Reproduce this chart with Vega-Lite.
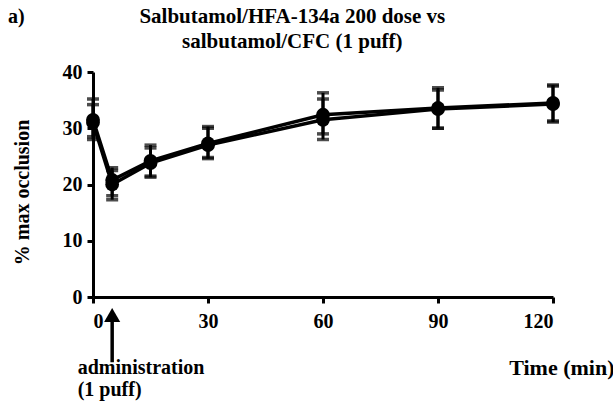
{
  "$schema": "https://vega.github.io/schema/vega-lite/v6.json",
  "width": 460,
  "height": 225,
  "autosize": {"type": "none"},
  "padding": {"left": 93, "top": 72, "right": 60, "bottom": 106},
  "background": "white",
  "config": {
    "view": {"stroke": null},
    "axis": {
      "domainColor": "black",
      "domainWidth": 3,
      "tickColor": "black",
      "tickWidth": 3,
      "tickSize": 6,
      "grid": false,
      "labelFont": "Liberation Serif",
      "labelFontSize": 20,
      "labelFontWeight": "bold",
      "labelColor": "black",
      "titleFont": "Liberation Serif",
      "titleFontSize": 20,
      "titleFontWeight": "bold",
      "titleColor": "black"
    }
  },
  "datasets": {
    "series": [
      {"series": "HFA", "time": 0, "mean": 31.5, "lo": 28.0, "hi": 35.2},
      {"series": "HFA", "time": 5, "mean": 20.8, "lo": 18.0, "hi": 23.0},
      {"series": "HFA", "time": 15, "mean": 24.2, "lo": 21.5, "hi": 27.0},
      {"series": "HFA", "time": 30, "mean": 27.3, "lo": 24.6, "hi": 30.3},
      {"series": "HFA", "time": 60, "mean": 32.4, "lo": 29.0, "hi": 36.3},
      {"series": "HFA", "time": 90, "mean": 33.6, "lo": 30.0, "hi": 37.2},
      {"series": "HFA", "time": 120, "mean": 34.5, "lo": 31.1, "hi": 37.7},
      {"series": "CFC", "time": 0, "mean": 31.0, "lo": 28.5, "hi": 34.2},
      {"series": "CFC", "time": 5, "mean": 20.0, "lo": 17.3, "hi": 22.5},
      {"series": "CFC", "time": 15, "mean": 23.8, "lo": 21.3, "hi": 26.5},
      {"series": "CFC", "time": 30, "mean": 27.0, "lo": 24.8, "hi": 30.0},
      {"series": "CFC", "time": 60, "mean": 31.5, "lo": 28.0, "hi": 35.2},
      {"series": "CFC", "time": 90, "mean": 33.4, "lo": 30.0, "hi": 36.8},
      {"series": "CFC", "time": 120, "mean": 34.3, "lo": 31.3, "hi": 37.5}
    ],
    "notes": [
      {"x": -4, "y": -12.6, "label": "administration"},
      {"x": -4, "y": -16.6, "label": "(1 puff)"},
      {"x": -22.2, "y": 49.8, "label": "a)"}
    ],
    "titles": [
      {"x": 52, "y": 49.8, "label": "Salbutamol/HFA-134a 200 dose vs"},
      {"x": 52, "y": 45.3, "label": "salbutamol/CFC (1 puff)"}
    ],
    "arrow": [
      {"x": 5, "y": -3.2, "y2": -11.6}
    ]
  },
  "layer": [
    {
      "data": {"name": "series"},
      "mark": {"type": "rule", "color": "black", "strokeWidth": 3},
      "encoding": {
        "x": {"field": "time", "type": "quantitative", "scale": {"domain": [0, 120]},
          "axis": {"values": [0, 30, 60, 90, 120], "labelPadding": 8, "title": "Time (min)",
            "titleAnchor": "end", "titleAlign": "right", "titleX": 521, "titleY": 70, "titleBaseline": "middle", "titleFontSize": 22}},
        "y": {"field": "lo", "type": "quantitative", "scale": {"domain": [0, 40]},
          "axis": {"values": [0, 10, 20, 30, 40], "labelPadding": 5, "title": "% max occlusion",
            "titleX": -71, "titleY": 120, "titleAngle": -90, "titleBaseline": "middle", "titleAlign": "center"}},
        "y2": {"field": "hi"},
        "detail": {"field": "series"}
      }
    },
    {
      "data": {"name": "series"},
      "mark": {"type": "tick", "orient": "horizontal", "color": "black", "size": 12, "thickness": 3.5},
      "encoding": {
        "x": {"field": "time", "type": "quantitative"},
        "y": {"field": "hi", "type": "quantitative"}
      }
    },
    {
      "data": {"name": "series"},
      "mark": {"type": "tick", "orient": "horizontal", "color": "black", "size": 12, "thickness": 3.5},
      "encoding": {
        "x": {"field": "time", "type": "quantitative"},
        "y": {"field": "lo", "type": "quantitative"}
      }
    },
    {
      "data": {"name": "series"},
      "mark": {"type": "line", "color": "black", "strokeWidth": 3.5},
      "encoding": {
        "x": {"field": "time", "type": "quantitative"},
        "y": {"field": "mean", "type": "quantitative"},
        "detail": {"field": "series"}
      }
    },
    {
      "data": {"name": "series"},
      "mark": {"type": "point", "shape": "circle", "filled": true, "color": "black", "opacity": 1, "size": 190},
      "encoding": {
        "x": {"field": "time", "type": "quantitative"},
        "y": {"field": "mean", "type": "quantitative"}
      }
    },
    {
      "data": {"name": "arrow"},
      "mark": {"type": "rule", "color": "black", "strokeWidth": 3.5},
      "encoding": {
        "x": {"field": "x", "type": "quantitative"},
        "y": {"field": "y", "type": "quantitative"},
        "y2": {"field": "y2"}
      }
    },
    {
      "data": {"name": "arrow"},
      "mark": {"type": "point", "shape": "triangle-up", "filled": true, "color": "black", "opacity": 1, "size": 260},
      "encoding": {
        "x": {"field": "x", "type": "quantitative"},
        "y": {"field": "y", "type": "quantitative"}
      }
    },
    {
      "data": {"name": "notes"},
      "mark": {"type": "text", "align": "left", "baseline": "middle", "font": "Liberation Serif", "fontWeight": "bold", "fontSize": 20, "color": "black"},
      "encoding": {
        "x": {"field": "x", "type": "quantitative"},
        "y": {"field": "y", "type": "quantitative"},
        "text": {"field": "label"}
      }
    },
    {
      "data": {"name": "titles"},
      "mark": {"type": "text", "align": "center", "baseline": "middle", "font": "Liberation Serif", "fontWeight": "bold", "fontSize": 21, "color": "black"},
      "encoding": {
        "x": {"field": "x", "type": "quantitative"},
        "y": {"field": "y", "type": "quantitative"},
        "text": {"field": "label"}
      }
    }
  ]
}
